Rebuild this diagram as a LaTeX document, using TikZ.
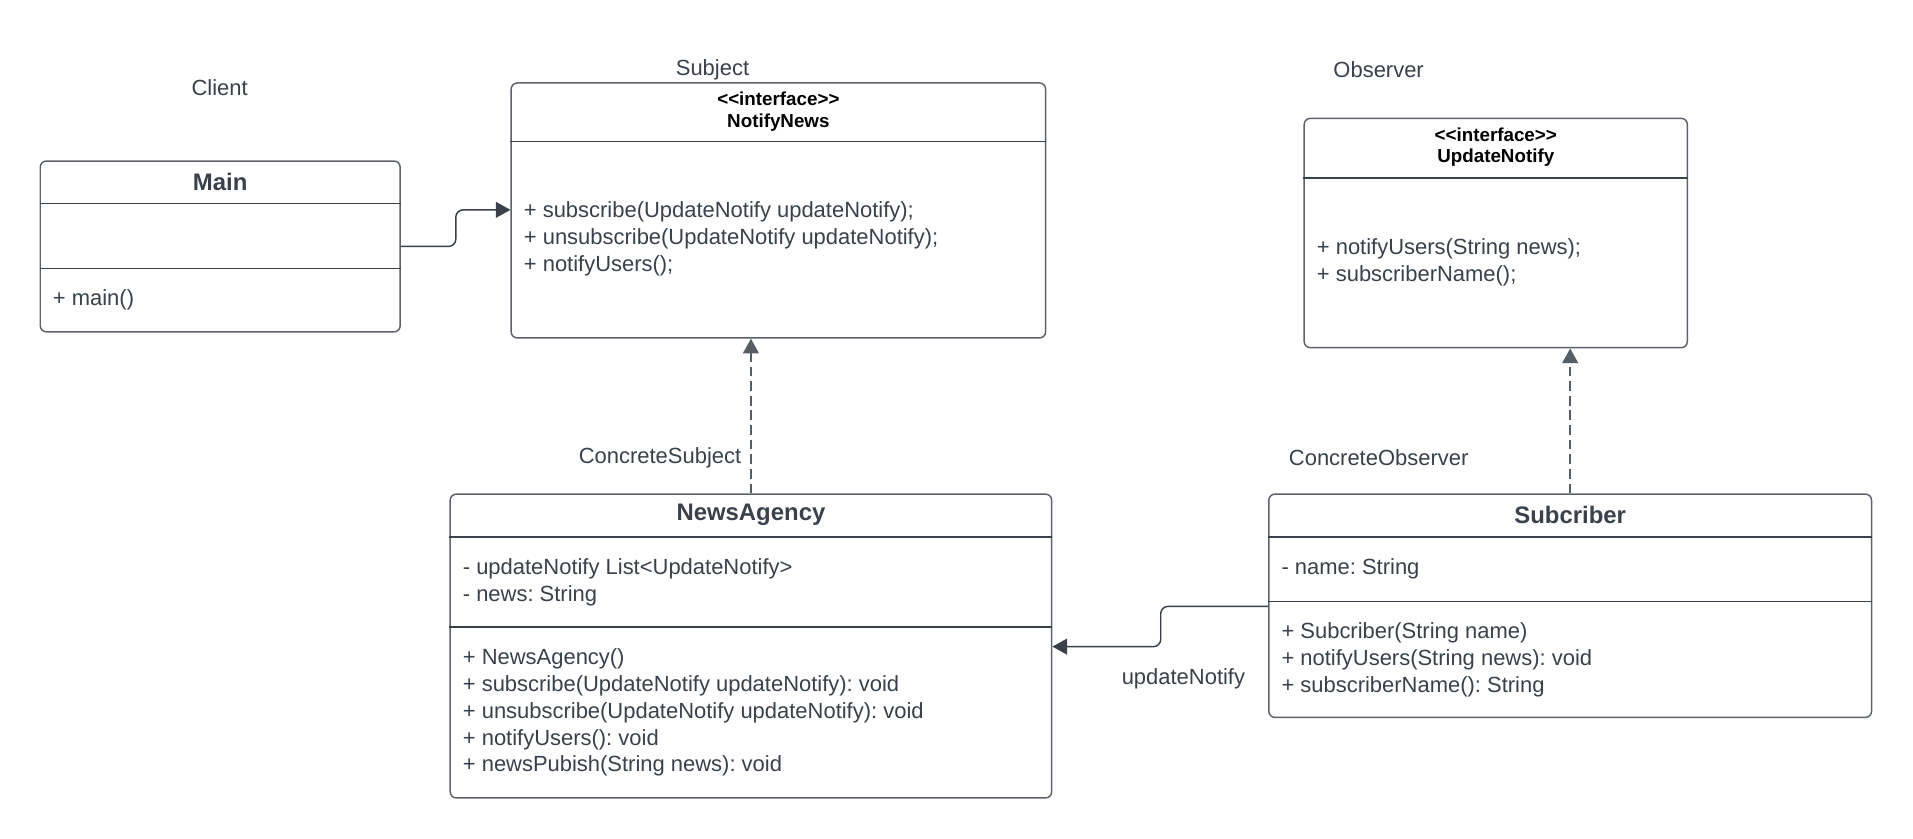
\documentclass[tikz,border=0pt]{standalone}
\usepackage{fontspec}
\setmainfont{Liberation Sans}
\usepackage{tikz}
\usetikzlibrary{arrows.meta}
\definecolor{ink}{HTML}{3A414A}
\definecolor{edge}{HTML}{5E636B}
\newcommand{\stereo}[1]{<\kern0pt<#1>\kern0pt>}
\frenchspacing

\begin{document}
\begin{tikzpicture}[x=0.5pt,y=-0.5pt,
    classbox/.style={draw=edge,line width=0.6pt,rounded corners=2.5pt,inner sep=0pt},
    classname/.style={font=\fontsize{9.8}{12}\selectfont\bfseries,text=ink,yshift=-1pt},
    iface/.style={font=\fontsize{7.7}{8.9}\selectfont\bfseries,align=center,text=black,yshift=-0.8pt},
    member/.style={font=\fontsize{9}{11}\selectfont,text=ink,align=left,anchor=west,inner sep=0pt,yshift=-1pt},
    tag/.style={font=\fontsize{9}{11}\selectfont,text=ink,yshift=-1pt},
    divider/.style={draw=ink,line width=0.6pt},
    assoc/.style={draw=ink,line width=0.6pt,rounded corners=3pt,-{Triangle[length=6pt,width=6.5pt]}},
    realize/.style={draw=ink!85,line width=0.6pt,dash pattern=on 4pt off 2pt,-{Triangle[length=6pt,width=6.5pt]}}]
    \useasboundingbox (0,0) rectangle (1568,687);

    % role labels
    \node[tag] (client) at (180,70) {Client};
    \node[tag] (subject) at (584,55) {Subject};
    \node[tag] (observer) at (1130,55) {Observer};
    \node[tag] (csubject) at (541,373) {ConcreteSubject};
    \node[tag] (cobserver) at (1130,373) {ConcreteObserver};

    % Main
    \node[classbox,minimum width=147.5pt,minimum height=70pt] (main) at (180.5,202) {};
    \node[classname] (maintitle) at (180.5,147) {Main};
    \draw[divider] (main.west |- 0,167) -- (main.east |- 0,167);
    \draw[divider] (main.west |- 0,220) -- (main.east |- 0,220);
    \node[member] (mainops) at (43,244) {+ main()};

    % NotifyNews
    \node[classbox,minimum width=219pt,minimum height=104.5pt] (notifynews) at (638,172.5) {};
    \node[iface] (nntitle) at (638,90) {\stereo{interface}\\NotifyNews};
    \draw[divider] (notifynews.west |- 0,116) -- (notifynews.east |- 0,116);
    \node[member] (nnops) at (429,194) {+ subscribe(UpdateNotify updateNotify);\\+ unsubscribe(UpdateNotify updateNotify);\\+ notifyUsers();};

    % UpdateNotify
    \node[classbox,minimum width=157pt,minimum height=94pt] (updatenotify) at (1226,191) {};
    \node[iface] (untitle) at (1226,119) {\stereo{interface}\\UpdateNotify};
    \draw[divider] (updatenotify.west |- 0,146) -- (updatenotify.east |- 0,146);
    \node[member] (unops) at (1079,213) {+ notifyUsers(String news);\\+ subscriberName();};

    % NewsAgency
    \node[classbox,minimum width=246.5pt,minimum height=124.5pt] (newsagency) at (615.5,529.5) {};
    \node[classname] (natitle) at (615.5,420) {NewsAgency};
    \draw[divider] (newsagency.west |- 0,440) -- (newsagency.east |- 0,440);
    \draw[divider] (newsagency.west |- 0,514) -- (newsagency.east |- 0,514);
    \node[member] (naattrs) at (379,475) {- updateNotify List<UpdateNotify>\\- news: String};
    \node[member] (naops) at (379,582) {+ NewsAgency()\\+ subscribe(UpdateNotify updateNotify): void\\+ unsubscribe(UpdateNotify updateNotify): void\\+ notifyUsers(): void\\+ newsPubish(String news): void};

    % Subcriber
    \node[classbox,minimum width=247pt,minimum height=91.5pt] (subcriber) at (1287,496.5) {};
    \node[classname] (subtitle) at (1287,420) {Subcriber};
    \draw[divider] (subcriber.west |- 0,440) -- (subcriber.east |- 0,440);
    \draw[divider] (subcriber.west |- 0,493) -- (subcriber.east |- 0,493);
    \node[member] (subattrs) at (1050,464) {- name: String};
    \node[member] (subops) at (1050,539) {+ Subcriber(String name)\\+ notifyUsers(String news): void\\+ subscriberName(): String};

    % connectors
    \draw[assoc] (main.east) -- ++(45,0) |- (notifynews.west |- 0,172);
    \draw[realize] (newsagency.north) -- (newsagency.north |- notifynews.south);
    \draw[realize] (subcriber.north) -- (subcriber.north |- updatenotify.south);
    \draw[assoc] (subcriber.west |- 0,497) -- ++(-88,0) |- (newsagency.east |- 0,530);
    \node[tag] (assoclabel) at (970,554) {updateNotify};
\end{tikzpicture}
\end{document}
